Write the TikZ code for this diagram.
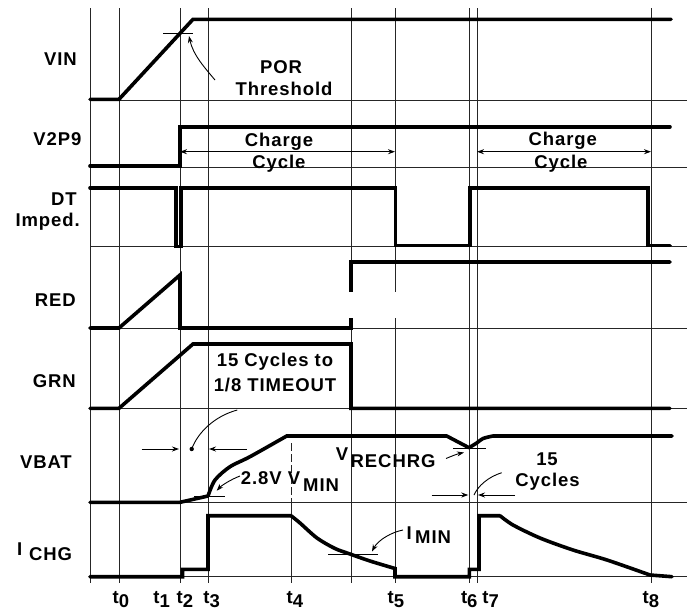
\documentclass[tikz,border=0pt]{standalone}
\usepackage{fontspec}
\setmainfont{Liberation Sans}
\newfontfamily\lf[LetterSpace=5]{Liberation Sans}
\usetikzlibrary{arrows.meta}
\begin{document}
\begin{tikzpicture}[x=1pt,y=-1pt,
  grid/.style={line width=1pt,black!85},
  sig/.style={line width=3.6pt,line cap=round,line join=miter},
  thinl/.style={line width=0.9pt},
  arr/.style={thinl,-{Stealth[length=7pt,width=5pt]}},
  darr/.style={thinl,{Stealth[length=7pt,width=5pt]}-{Stealth[length=7pt,width=5pt]}},
  lbl/.style={font=\lf\bfseries\fontsize{18.5}{20}\selectfont,inner sep=0pt},
]
\useasboundingbox (0,0) rectangle (691,611);
% grid
\foreach \x in {90,119,180,208,351,395,469,477,651} \draw[grid] (\x,8) -- (\x,583);
\draw[grid,dash pattern=on 8pt off 3pt] (291,443) -- (291,502);
\draw[grid] (291,502) -- (291,583);
\foreach \y in {100,167.5,246,328.3,408.3,502.3,576.7} \draw[grid] (90,\y) -- (687,\y);
% signals
\draw[sig] (90,99.3) -- (119,99.3) -- (193,19.3) -- (671,19.3);
\draw[sig] (90,166) -- (180,166) -- (180,126.7) -- (670,126.7);
\draw[sig] (90,187.7) -- (176,187.7) -- (176,246.5) -- (181,246.5) -- (181,187.7) -- (395.5,187.7) -- (395.5,245.5) -- (470,245.5) -- (470,187.7) -- (648,187.7) -- (648,245.5) -- (670,245.5);
\draw[sig] (90,328) -- (119,328) -- (180,275) -- (180,328) -- (351,328) -- (351,262) -- (670,262);
\draw[sig] (90,408.3) -- (119,408.3) -- (193,344) -- (351,344) -- (351,408.3) -- (670,408.3);
\draw[sig] (90,502.3) -- (180,502.3) -- (208,496) plot[smooth] coordinates {(208,496) (215,480) (230,466.7) (250,456.7) (286.7,436)} -- (446.7,436) -- (469,447.7) plot[smooth] coordinates {(469,447.7) (476.7,443) (483,438.5) (493,436)} -- (672,436);
\draw[sig] (90,576.7) -- (182.5,576.7) -- (182.5,569.3) -- (208,569.3) -- (208,515.7) -- (291,515.7) plot[smooth] coordinates {(291,515.7) (300,523) (317,538) (335,548.5) (350,554) (370,561) (395,568.5)} -- (395,576.7) -- (469.3,576.7) -- (469.3,569.3) -- (479,569.3) -- (479,515.7) -- (500,515.7) plot[smooth] coordinates {(500,515.7) (513,525) (540,538) (573,550) (607,560) (650,575)} -- (672,576.7);
% gap
\fill[white] (345,292) rectangle (400,318);
% markers
\draw[thinl] (163,33.3) -- (193,33.3);
\draw[arr] (215,80) .. controls (205,68) and (193,55) .. (189,36);
\draw[darr] (180,151.7) -- (395,151.7);
\draw[darr] (477,151.7) -- (651,151.7);
\draw[arr] (141.7,449) -- (179,449);
\draw[arr] (246.7,449) -- (209,449);
\fill (191.7,449) circle (2.2pt);
\draw[thinl] (191.7,449) .. controls (198,432) and (215,416) .. (237.3,410);
\draw[thinl] (194,496) -- (225,496);
\draw[arr] (240,476) .. controls (232,479) and (222,485) .. (216.7,490.7);
\draw[thinl] (453,448.3) -- (485.7,448.3);
\draw[arr] (446,458.5) .. controls (452,456) and (457,454) .. (464,452.5);
\draw[arr] (431.7,495) -- (468.3,495);
\draw[arr] (515,495) -- (478,495);
\draw[thinl] (501.7,472.7) .. controls (488,477) and (478,486) .. (474,495);
\draw[thinl] (328,554) -- (378,554);
\draw[arr] (403,530) .. controls (392,532) and (378,540) .. (372,551.5);
% left labels
\node[lbl,anchor=base east] (lvin) at (77,65) {VIN};
\node[lbl,anchor=base east] (lv2p9) at (81.7,145) {V2P9};
\node[lbl,anchor=base east] (ldt) at (77,205) {DT};
\node[lbl,anchor=base east] (limp) at (80,226) {Imped.};
\node[lbl,anchor=base east] (lred) at (76,306) {RED};
\node[lbl,anchor=base east] (lgrn) at (76,387) {GRN};
\node[lbl,anchor=base east] (lvbat) at (72,468.5) {VBAT};
\node[lbl,anchor=base west] (lichg) at (17,555) {I};
\node[lbl,anchor=base west] (lichgs) at (29,560) {CHG};
% inner texts
\node[lbl,anchor=base] (por) at (281,73.3) {POR};
\node[lbl,anchor=base] (thr) at (284,95) {Threshold};
\node[lbl,anchor=base] (ch1) at (279,146.6) {Charge};
\node[lbl,anchor=base] (cy1) at (279,168.3) {Cycle};
\node[lbl,anchor=base] (ch2) at (562.8,145) {Charge};
\node[lbl,anchor=base] (cy2) at (561,168.3) {Cycle};
\node[lbl,anchor=base] (c15a) at (275,366.7) {15 Cycles to};
\node[lbl,anchor=base] (c15b) at (275,391.7) {1/8 TIMEOUT};
\node[lbl,anchor=base west] (vmin) at (240.7,484) {2.8V V};
\node[lbl,anchor=base west] (vmins) at (303,491.7) {MIN};
\node[lbl,anchor=base west] (vre) at (335.7,460) {V};
\node[lbl,anchor=base west] (vres) at (350.5,467.5) {RECHRG};
\node[lbl,anchor=base] (f15) at (547,465) {15};
\node[lbl,anchor=base] (fcy) at (547.5,486.7) {Cycles};
\node[lbl,anchor=base west] (imin) at (406.5,539.5) {I};
\node[lbl,anchor=base west] (imins) at (415,543.5) {MIN};
% time labels
\foreach \tx/\d/\n in {116/0/t0,156.7/1/t1,180/2/t2,206.7/3/t3,290/4/t4,391/5/t5,464.3/6/t6,485.7/7/t7,646/8/t8}
  \node[lbl,anchor=base west] (\n) at (\tx-3.5,603) {t\raisebox{-4.5pt}{\d}};
\end{tikzpicture}
\end{document}
